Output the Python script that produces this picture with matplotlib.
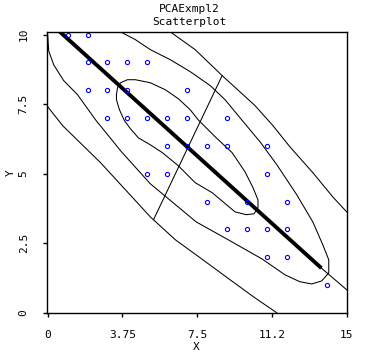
import matplotlib
matplotlib.use("Agg")
import matplotlib.pyplot as plt

# scatter points (X, Y)
pts_x = [1, 2, 2, 3, 4, 5, 2, 3, 4, 7, 3, 4, 5, 6, 7, 9, 6, 7, 8, 9, 11,
         5, 6, 11, 8, 10, 12, 9, 10, 11, 12, 11, 12, 14]
pts_y = [10, 10, 9, 9, 9, 9, 8, 8, 8, 8, 7, 7, 7, 7, 7, 7, 6, 6, 6, 6, 6,
         5, 5, 5, 4, 4, 4, 3, 3, 3, 3, 2, 2, 1]

# principal axis (thick part + thin extension) and minor axis
major_x = [0.57, 13.73]
major_y = [10.13, 1.61]
major_ext_x = [13.73, 15.0]
major_ext_y = [1.61, 0.83]
minor_x = [8.74, 5.31]
minor_y = [8.51, 3.35]

# inner (teardrop) contour
inner_x = [3.45, 3.50, 3.65, 4.00, 4.40, 5.15, 5.90, 6.55, 7.15, 7.55, 8.40,
           9.25, 9.90, 10.30, 10.55, 10.55, 10.35, 9.95, 9.40, 8.80, 8.25,
           7.40, 6.55, 5.75, 5.15, 4.55, 4.15, 3.85, 3.60, 3.45, 3.45]
inner_y = [7.84, 8.09, 8.27, 8.38, 8.38, 8.27, 8.02, 7.70, 7.30, 6.94, 6.33,
           5.76, 5.07, 4.50, 4.06, 3.78, 3.56, 3.53, 3.63, 3.99, 4.32,
           4.68, 5.29, 5.76, 6.04, 6.29, 6.62, 6.91, 7.30, 7.66, 7.84]

# middle contour (runs out past the top-left corner)
mid_x = [3.55, 4.40, 5.15, 6.15, 7.15, 8.15, 8.90, 9.65, 10.65, 11.50, 12.50,
         13.30, 13.80, 14.10, 14.10, 13.75, 13.25, 12.65, 11.90, 10.75, 9.05,
         7.45, 5.15, 3.70, 2.40, 1.50, 0.80, 0.30, 0.05, 0.00, -0.2, 2.0, 3.55]
mid_y = [10.14, 9.82, 9.46, 9.10, 8.67, 8.17, 7.66, 7.01, 6.15, 5.32, 4.24,
         3.27, 2.45, 1.91, 1.44, 1.15, 1.04, 1.12, 1.37, 1.94, 2.63,
         3.27, 4.64, 5.79, 6.94, 7.84, 8.35, 8.92, 9.42, 10.0, 10.8, 10.9, 10.14]

# outer contour, upper-right side
outer_a_x = [6.15, 7.40, 8.75, 10.40, 11.30, 12.15, 13.30, 14.30, 15.0]
outer_a_y = [10.1, 9.46, 8.53, 7.45, 6.73, 5.97, 5.04, 4.17, 3.63]

# outer contour, lower-left side
outer_b_x = [0.0, 0.75, 2.65, 5.15, 6.40, 7.65, 9.15, 10.40, 11.50]
outer_b_y = [7.41, 6.73, 5.40, 3.45, 2.63, 1.98, 1.19, 0.54, 0.0]

xticks = [0, 3.75, 7.5, 11.25, 15]
xtick_labels = ["0", "3.75", "7.5", "11.2", "15"]
yticks = [0, 2.5, 5, 7.5, 10]
ytick_labels = ["0", "2.5", "5", "7.5", "10"]

plt.rcParams["font.family"] = "DejaVu Sans Mono"
plt.rcParams["font.size"] = 8

fig = plt.figure(figsize=(3.78, 3.58), dpi=100)
ax = fig.add_axes([0.1235, 0.126, 0.7937, 0.785])

lw = 0.75
ax.plot(outer_a_x, outer_a_y, color="black", lw=lw)
ax.plot(outer_b_x, outer_b_y, color="black", lw=lw)
ax.plot(mid_x, mid_y, color="black", lw=lw)
ax.plot(inner_x, inner_y, color="black", lw=lw)
ax.plot(minor_x, minor_y, color="black", lw=lw)
ax.plot(major_ext_x, major_ext_y, color="black", lw=lw)
ax.plot(major_x, major_y, color="black", lw=2.8, solid_capstyle="butt")
ax.plot(pts_x, pts_y, "o", ms=3, mfc="none", mec="#0000ff", mew=0.8)

ax.set_xlim(-0.05, 15.0)
ax.set_ylim(0, 10.1)
ax.set_xticks(xticks)
ax.set_xticklabels(xtick_labels)
ax.set_yticks(yticks)
ax.set_yticklabels(ytick_labels, rotation=90, va="center")
ax.tick_params(direction="out", length=3, width=1, pad=9)
ax.tick_params(axis="y", pad=10)
for s in ax.spines.values():
    s.set_linewidth(1.0)

ax.set_xlabel("X", labelpad=2)
ax.set_ylabel("Y", labelpad=2)

fig.text(0.5, 0.975, "PCAExmpl2", ha="center", va="center")
fig.text(0.5, 0.939, "Scatterplot", ha="center", va="center")

fig.savefig("out.png", dpi=100)
